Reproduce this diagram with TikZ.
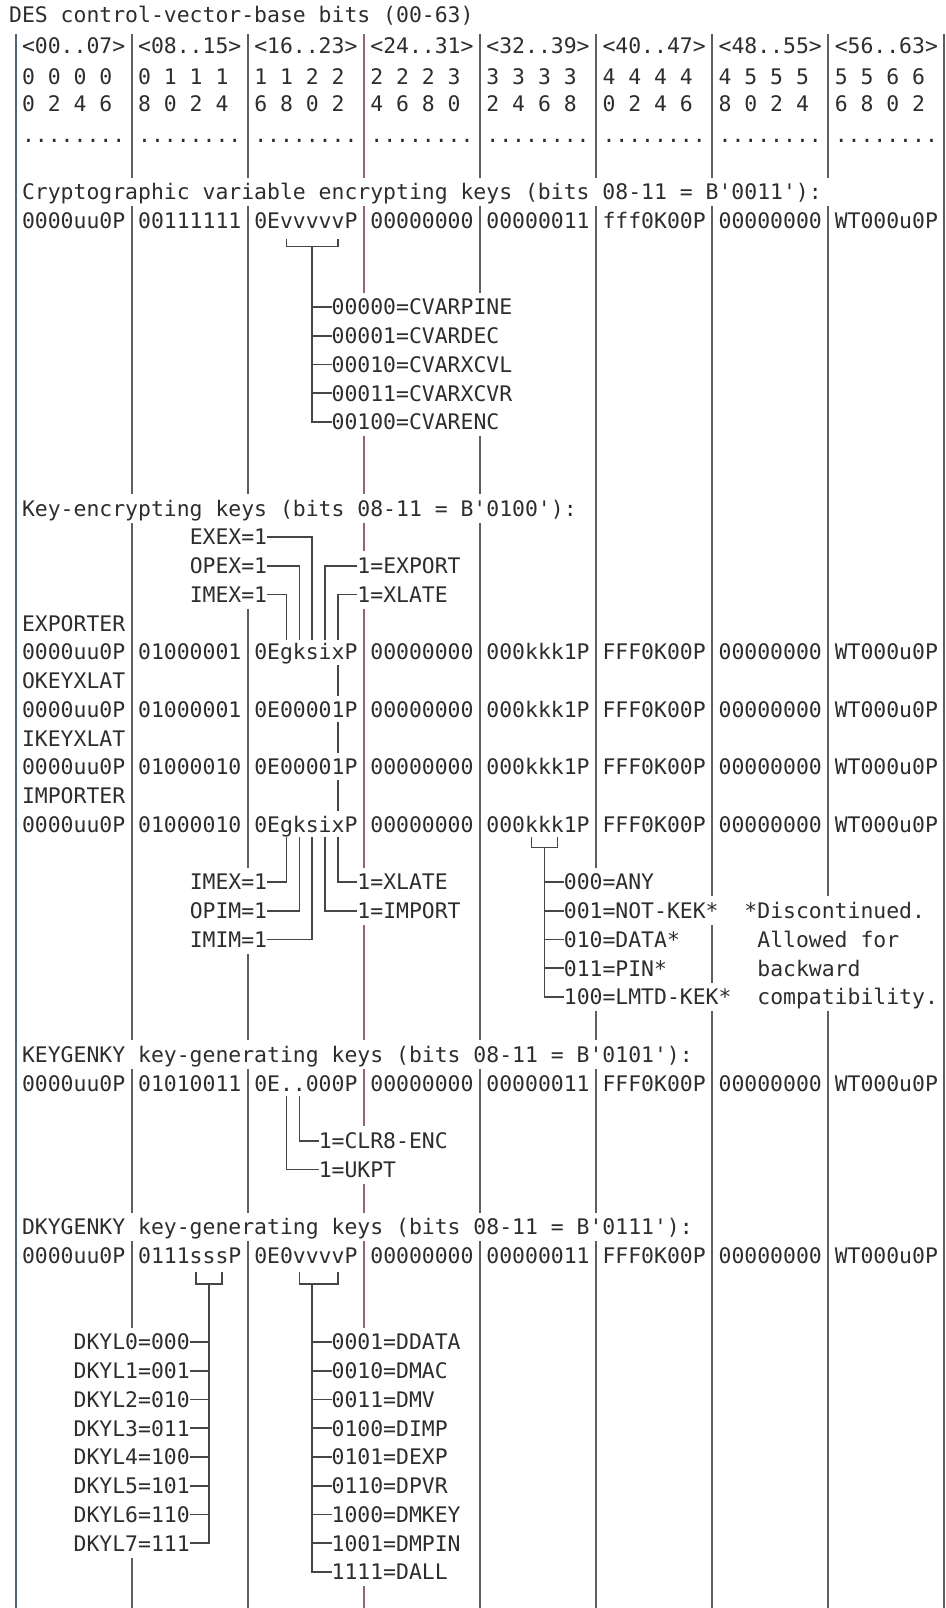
\documentclass[tikz,border=0pt]{standalone}
\usepackage{fontspec}
\newfontfamily\cvmono{DejaVu Sans Mono}
\definecolor{ink}{RGB}{45,45,45}
\definecolor{rulegray}{RGB}{95,95,95}
\definecolor{rulered}{RGB}{150,100,112}
\definecolor{rulebl}{RGB}{85,100,115}
\definecolor{conncol}{RGB}{70,70,70}
\tikzset{
  txt/.style={font=\cvmono\fontsize{10.713pt}{14pt}\selectfont, text=ink, inner sep=0pt, outer sep=0pt, anchor=base west},
  vrule/.style={draw=rulegray, line width=1pt},
  conn/.style={draw=conncol, line width=0.85pt},
}
\newcommand\eightdots{........}
\newcommand\TX[4]{\node[txt] (#1) at ({#2-0.5},{#3+0.27}) {#4};}
\newcommand\Fields[3]{\foreach \s [count=\i from 0] in {#3} {\node[txt] (#1\i) at ({9*\i+0.5},{#2+0.27}) {\s};}}
\newcommand\Runs[3]{\foreach \a/\b in {#3} {\draw[vrule,#2] (#1,\a-0.5) -- (#1,\b+0.5);}}
\begin{document}
\begin{tikzpicture}[x=6.45pt,y=-14.375pt]
\useasboundingbox (-1.2093,-6.6783) rectangle (72.1240,49.2522);
% ---------- vertical rules ----------
\Runs{0}{draw=rulebl}{-5/49}
\Runs{9}{}{-5/-1,1/10,12/29,31/35,37/39,48/49}
\Runs{18}{}{-5/-1,1/10,15/23,27/29,31/35,37/49}
\Runs{27}{draw=rulered}{-5/-1,1/3,9/10,12/12,15/23,26/29,31/32,35/35,37/39,49/49}
\Runs{36}{}{-5/-1,1/3,9/10,12/29,31/35,37/49}
\Runs{45}{}{-5/-1,1/23,29/29,31/35,37/49}
\Runs{54}{}{-5/-1,1/24,26/27,29/49}
\Runs{63}{}{-5/-1,1/24,29/49}
\Runs{72}{}{-5/49}
% ---------- heading block ----------
\TX{title}{0}{-6.15}{DES control-vector-base bits (00-63)}
\Fields{hd}{-5.1}{<00{.}{.}07>,<08{.}{.}15>,<16{.}{.}23>,<24{.}{.}31>,<32{.}{.}39>,<40{.}{.}47>,<48{.}{.}55>,<56{.}{.}63>}
\Fields{ta}{-4}{0 0 0 0,0 1 1 1,1 1 2 2,2 2 2 3,3 3 3 3,4 4 4 4,4 5 5 5,5 5 6 6}
\Fields{tb}{-3.08}{0 2 4 6,8 0 2 4,6 8 0 2,4 6 8 0,2 4 6 8,0 2 4 6,8 0 2 4,6 8 0 2}
\Fields{dt}{-2}{\eightdots,\eightdots,\eightdots,\eightdots,\eightdots,\eightdots,\eightdots,\eightdots}
% ---------- section 1 ----------
\TX{h1}{1}{0}{Cryptographic variable encrypting keys (bits 08-11 = B'0011'):}
\Fields{a}{1}{0000uu0P,00111111,0EvvvvvP,00000000,00000011,fff0K00P,00000000,WT000u0P}
\TX{cv4}{25}{4}{00000=CVARPINE}
\TX{cv5}{25}{5}{00001=CVARDEC}
\TX{cv6}{25}{6}{00010=CVARXCVL}
\TX{cv7}{25}{7}{00011=CVARXCVR}
\TX{cv8}{25}{8}{00100=CVARENC}
\draw[conn] (21,1.62) |- (25,1.9) -- (25,1.62);
\coordinate (vs1) at (23,1.9);
\draw[conn] (vs1) |- (cv8.west);
\foreach \l in {cv4,cv5,cv6,cv7} \draw[conn] (\l.west -| vs1) -- (\l.west);
% ---------- section 2 ----------
\TX{h2}{1}{11}{Key-encrypting keys (bits 08-11 = B'0100'):}
\TX{exex}{14}{12}{EXEX=1}
\TX{opex}{14}{13}{OPEX=1}
\TX{export}{27}{13}{1=EXPORT}
\TX{imexa}{14}{14}{IMEX=1}
\TX{xlatea}{27}{14}{1=XLATE}
\TX{nexp}{1}{15}{EXPORTER}
\Fields{b}{16}{0000uu0P,01000001,0EgksixP,00000000,000kkk1P,FFF0K00P,00000000,WT000u0P}
\TX{nokx}{1}{17}{OKEYXLAT}
\Fields{c}{18}{0000uu0P,01000001,0E00001P,00000000,000kkk1P,FFF0K00P,00000000,WT000u0P}
\TX{nikx}{1}{19}{IKEYXLAT}
\Fields{d}{20}{0000uu0P,01000010,0E00001P,00000000,000kkk1P,FFF0K00P,00000000,WT000u0P}
\TX{nimp}{1}{21}{IMPORTER}
\Fields{e}{22}{0000uu0P,01000010,0EgksixP,00000000,000kkk1P,FFF0K00P,00000000,WT000u0P}
\coordinate (u21) at (21,15.58);
\coordinate (u22) at (22,15.58);
\coordinate (u23) at (23,15.58);
\coordinate (u24) at (24,15.58);
\coordinate (u25) at (25,15.58);
\draw[conn] (exex.east) -| (u23);
\draw[conn] (opex.east) -| (u22);
\draw[conn] (imexa.east) -| (u21);
\draw[conn] (export.west) -| (u24);
\draw[conn] (xlatea.west) -| (u25);
\draw[conn] (25,16.45) -- (25,17.52);
\draw[conn] (25,18.45) -- (25,19.52);
\draw[conn] (25,20.45) -- (25,21.52);
% lower group
\TX{imexb}{14}{24}{IMEX=1}
\TX{xlateb}{27}{24}{1=XLATE}
\TX{opim}{14}{25}{OPIM=1}
\TX{import}{27}{25}{1=IMPORT}
\TX{imim}{14}{26}{IMIM=1}
\coordinate (l21) at (21,22.45);
\coordinate (l22) at (22,22.45);
\coordinate (l23) at (23,22.45);
\coordinate (l24) at (24,22.45);
\coordinate (l25) at (25,22.45);
\draw[conn] (l21) |- (imexb.east);
\draw[conn] (l22) |- (opim.east);
\draw[conn] (l23) |- (imim.east);
\draw[conn] (l24) |- (import.west);
\draw[conn] (l25) |- (xlateb.west);
% kkk
\TX{kany}{43}{24}{000=ANY}
\TX{knot}{43}{25}{001=NOT-KEK*}
\TX{kdata}{43}{26}{010=DATA*}
\TX{kpin}{43}{27}{011=PIN*}
\TX{klmtd}{43}{28}{100=LMTD-KEK*}
\TX{disc}{57}{25}{*Discontinued.}
\TX{allow}{58}{26}{Allowed for}
\TX{backw}{58}{27}{backward}
\TX{compat}{58}{28}{compatibility.}
\draw[conn] (40,22.45) |- (42,22.8) -- (42,22.45);
\coordinate (ks) at (41,22.8);
\draw[conn] (ks) |- (klmtd.west);
\foreach \l in {kany,knot,kdata,kpin} \draw[conn] (\l.west -| ks) -- (\l.west);
% ---------- section 4 ----------
\TX{h4}{1}{30}{KEYGENKY key-generating keys (bits 08-11 = B'0101'):}
\Fields{g}{31}{0000uu0P,01010011,0E{.}{.}000P,00000000,00000011,FFF0K00P,00000000,WT000u0P}
\TX{clr}{24}{33}{1=CLR8-ENC}
\TX{ukpt}{24}{34}{1=UKPT}
\coordinate (g22) at (22,31.45);
\coordinate (g21) at (21,31.45);
\draw[conn] (g22) |- (clr.west);
\draw[conn] (g21) |- (ukpt.west);
% ---------- section 5 ----------
\TX{h5}{1}{36}{DKYGENKY key-generating keys (bits 08-11 = B'0111'):}
\Fields{k}{37}{0000uu0P,0111sssP,0E0vvvvP,00000000,00000011,FFF0K00P,00000000,WT000u0P}
\foreach \n/\v in {0/000,1/001,2/010,3/011,4/100,5/101,6/110,7/111}
  {\TX{dk\n}{5}{40+\n}{DKYL\n=\v}}
\foreach \n/\v in {0/0001=DDATA,1/0010=DMAC,2/0011=DMV,3/0100=DIMP,4/0101=DEXP,5/0110=DPVR,6/1000=DMKEY,7/1001=DMPIN,8/1111=DALL}
  {\TX{dv\n}{25}{40+\n}{\v}}
\draw[conn] (14,37.55) |- (16,37.98) -- (16,37.55);
\coordinate (ss) at (15,37.98);
\draw[conn] (ss) |- (dk7.east);
\foreach \n in {0,...,6} \draw[conn] (dk\n.east -| ss) -- (dk\n.east);
\draw[conn] (22,37.55) |- (25,37.98) -- (25,37.55);
\coordinate (vs5) at (23,37.98);
\draw[conn] (vs5) |- (dv8.west);
\foreach \n in {0,...,7} \draw[conn] (dv\n.west -| vs5) -- (dv\n.west);
\end{tikzpicture}
\end{document}
